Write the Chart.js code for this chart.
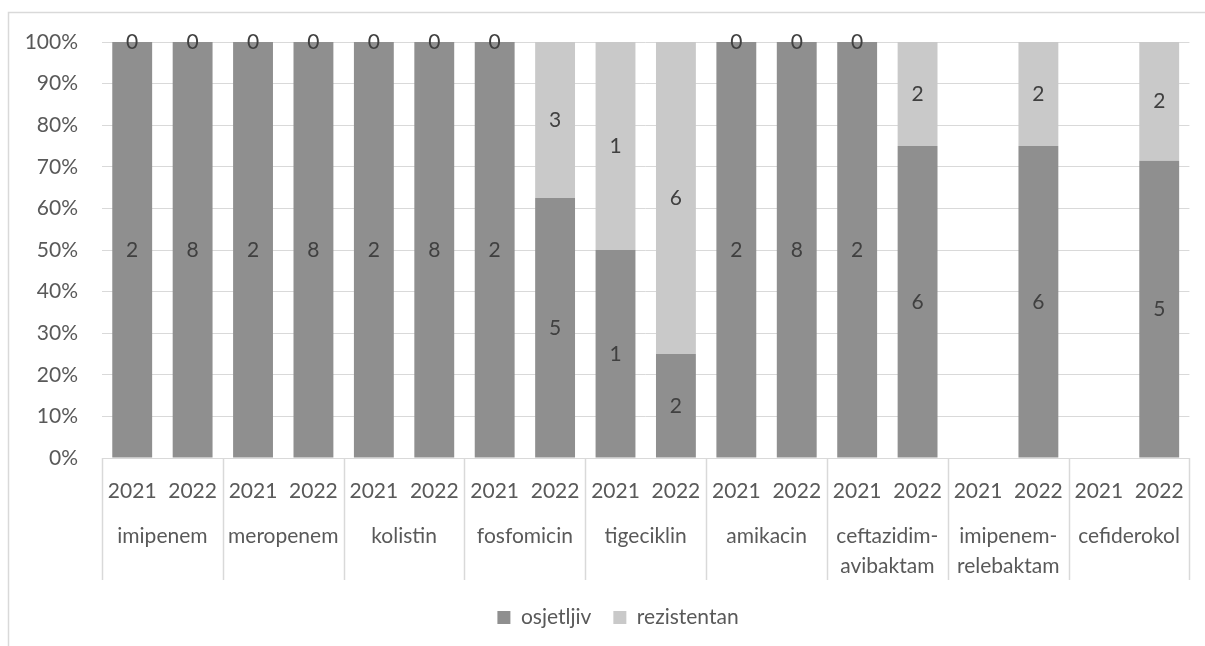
<!DOCTYPE html>
<html><head><meta charset="utf-8">
<script src="https://cdn.jsdelivr.net/npm/chart.js@4.4.1/dist/chart.umd.min.js"></script>
<style>html,body{margin:0;padding:0;background:#fff;overflow:hidden}#wrap{width:1205px;height:646px;position:relative}</style>
</head><body><div id="wrap"><canvas id="c"></canvas></div>
<script>
const years = ['2021','2022','2021','2022','2021','2022','2021','2022','2021','2022','2021','2022','2021','2022','2021','2022','2021','2022'];
const groups = ['imipenem','meropenem','kolistin','fosfomicin','tigeciklin','amikacin',['ceftazidim-','avibaktam'],['imipenem-','relebaktam'],'cefiderokol'];
const osjetljiv   = [2,8,2,8,2,8,2,5,1,2,2,8,2,6,null,6,null,5];
const rezistentan = [0,0,0,0,0,0,0,3,1,6,0,0,0,2,null,2,null,2];
const seriesNames = ['osjetljiv','rezistentan'];

function share(a, b) { return (a == null || b == null) ? null : a / (a + b) * 100; }
const pctO = osjetljiv.map((v, i) => share(v, rezistentan[i]));
const pctR = rezistentan.map((v, i) => share(v, osjetljiv[i]));

const TXT = '#595959';
const GRID = '#d9d9d9';
const FS = 21;
Chart.defaults.font.family = 'Lato, "Open Sans", sans-serif';

const countLabels = {
  id: 'countLabels',
  afterDatasetsDraw(chart) {
    const ctx = chart.ctx;
    ctx.save();
    ctx.font = FS + 'px Lato, "Open Sans", sans-serif';
    ctx.fillStyle = '#404040';
    ctx.textAlign = 'center';
    ctx.textBaseline = 'middle';
    chart.data.datasets.forEach((ds, di) => {
      const meta = chart.getDatasetMeta(di);
      meta.data.forEach((el, i) => {
        const v = ds.counts[i];
        if (v == null) return;
        ctx.fillText(String(v), el.x, (el.y + el.base) / 2);
      });
    });
    ctx.restore();
  }
};

const frame = {
  id: 'frame',
  afterLayout(chart) {
    if (chart.legend) { chart.legend.left += 23; chart.legend.right += 23; }
  },
  beforeDraw(chart) {
    const ctx = chart.ctx;
    ctx.save();
    ctx.strokeStyle = GRID;
    ctx.lineWidth = 1.5;
    ctx.beginPath();
    ctx.moveTo(8.5, chart.height);
    ctx.lineTo(8.5, 12.5);
    ctx.lineTo(chart.width, 12.5);
    ctx.stroke();
    ctx.restore();
  },
  afterDraw(chart) {
    const ctx = chart.ctx;
    const xs = chart.scales.x, x2 = chart.scales.x2;
    const half = (xs.getPixelForValue(1) - xs.getPixelForValue(0)) / 2;
    ctx.save();
    ctx.strokeStyle = GRID;
    ctx.lineWidth = 1.5;
    ctx.beginPath();
    for (let k = 0; k <= groups.length; k++) {
      const px = k < groups.length ? xs.getPixelForValue(2 * k) - half : xs.getPixelForValue(years.length - 1) + half;
      const p = Math.round(px) + 0.5;
      ctx.moveTo(p, chart.chartArea.bottom);
      ctx.lineTo(p, x2.top + 77);
    }
    ctx.stroke();
    ctx.restore();
  }
};

new Chart(document.getElementById('c'), {
  type: 'bar',
  data: {
    labels: years,
    datasets: [
      { label: seriesNames[0], data: pctO, counts: osjetljiv, backgroundColor: '#8f8f8f', borderWidth: 0, barPercentage: 0.66, categoryPercentage: 1 },
      { label: seriesNames[1], data: pctR, counts: rezistentan, backgroundColor: '#c9c9c9', borderWidth: 0, barPercentage: 0.66, categoryPercentage: 1 }
    ]
  },
  options: {
    responsive: true,
    maintainAspectRatio: false,
    animation: false,
    layout: { padding: { top: 42, right: 15, bottom: 8, left: 0 } },
    plugins: {
      tooltip: { enabled: false },
      legend: {
        position: 'bottom',
        labels: { color: TXT, font: { size: FS }, boxWidth: 13, boxHeight: 13, padding: 22 }
      }
    },
    scales: {
      x: {
        stacked: true, offset: true,
        grid: { display: false, drawTicks: false },
        border: { display: true, color: GRID, width: 1 },
        ticks: { color: TXT, font: { size: FS }, padding: 21, autoSkip: false, maxRotation: 0, minRotation: 0 },
        afterFit(s) { s.height = 45; }
      },
      x2: {
        type: 'category', labels: groups, position: 'bottom', offset: true,
        grid: { display: false, drawTicks: false },
        border: { display: false },
        ticks: { color: TXT, font: { size: FS, lineHeight: 1.43 }, padding: 18, autoSkip: false, maxRotation: 0, minRotation: 0 },
        afterFit(s) { s.height = 82; }
      },
      y: {
        stacked: true, min: 0, max: 100,
        ticks: { stepSize: 10, callback: v => v + '%', color: TXT, font: { size: FS }, padding: 24 },
        grid: { color: GRID, drawTicks: false, lineWidth: 1 },
        border: { display: false },
        afterFit(s) { s.width = 102; }
      }
    }
  },
  plugins: [frame, countLabels]
});
</script>
</body></html>
